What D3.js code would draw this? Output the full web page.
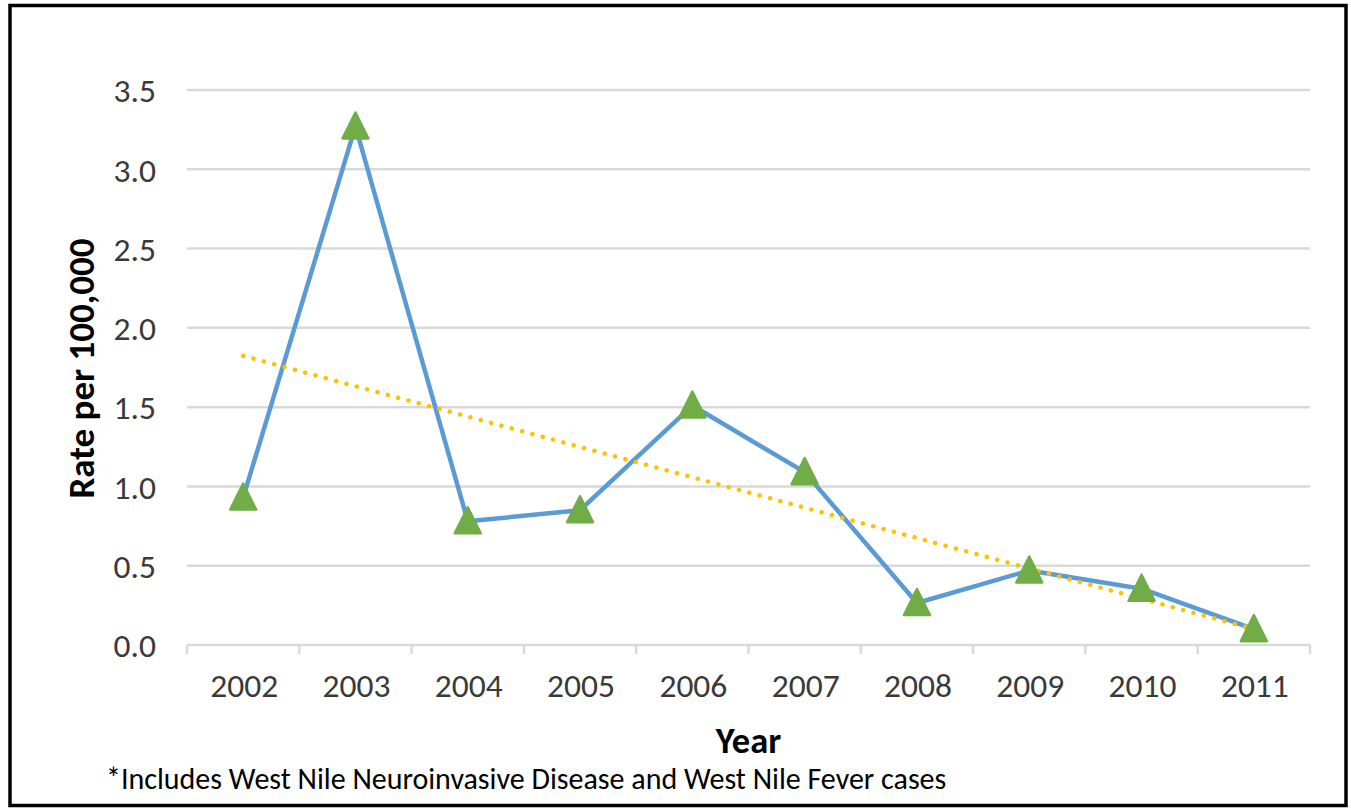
<!DOCTYPE html>
<html>
<head>
<meta charset="utf-8">
<script src="https://cdn.jsdelivr.net/npm/d3@7"></script>
<style>
  html, body { margin: 0; padding: 0; background: #fff; }
  svg { display: block; }
</style>
</head>
<body>
<svg id="chart" width="1351" height="810"></svg>
<script>
// West Nile virus rate per 100,000 by year
const years = ["2002", "2003", "2004", "2005", "2006", "2007", "2008", "2009", "2010", "2011"];
const rates = [0.93, 3.27, 0.78, 0.85, 1.51, 1.09, 0.265, 0.47, 0.355, 0.10];
const yTicks = [0, 0.5, 1.0, 1.5, 2.0, 2.5, 3.0, 3.5];
const xTitle = "Year";
const yTitle = "Rate per 100,000";
const footnote = "*Includes West Nile Neuroinvasive Disease and West Nile Fever cases";

const FONT = "Carlito, 'Open Sans', 'Noto Sans', sans-serif";
const svg = d3.select("#chart");

// outer frame
svg.append("rect").attr("x", 10).attr("y", 5.5).attr("width", 1336).attr("height", 800)
  .attr("fill", "#fff").attr("stroke", "#000").attr("stroke-width", 3.5);

const plot = { left: 187, right: 1310, top: 90, bottom: 645 };

const x = d3.scaleBand().domain(years).range([plot.left, plot.right]).padding(0);
const y = d3.scaleLinear().domain([0, 3.5]).range([plot.bottom, plot.top]);
const cx = d => x(d) + x.bandwidth() / 2;

// horizontal gridlines (the zero line doubles as the category axis)
svg.append("g").selectAll("line").data(yTicks).join("line")
  .attr("x1", plot.left).attr("x2", plot.right)
  .attr("y1", d => y(d)).attr("y2", d => y(d))
  .attr("stroke", "#d9d9d9").attr("stroke-width", 2.5);

// value axis labels
const yAxis = d3.axisLeft(y).tickValues(yTicks).tickFormat(d3.format(".1f")).tickSize(0).tickPadding(0);
const gy = svg.append("g").attr("transform", "translate(156,1)").call(yAxis);
gy.select(".domain").remove();
gy.selectAll("text").attr("font-family", FONT).attr("font-size", 33.5).attr("fill", "#3a3a3a");

// category axis: tick marks at band edges, labels centred in bands
const edges = years.map(d => x(d)).concat([plot.right]);
svg.append("g").selectAll("line").data(edges).join("line")
  .attr("x1", d => d).attr("x2", d => d)
  .attr("y1", plot.bottom).attr("y2", plot.bottom + 9)
  .attr("stroke", "#d9d9d9").attr("stroke-width", 2.5);

const xAxis = d3.axisBottom(x).tickSize(0).tickPadding(0);
const gx = svg.append("g").attr("transform", `translate(1,${plot.bottom + 28})`).call(xAxis);
gx.select(".domain").remove();
gx.selectAll("text").attr("font-family", FONT).attr("font-size", 33.5).attr("fill", "#3a3a3a");

// axis titles
svg.append("text").attr("x", (plot.left + plot.right) / 2).attr("y", 753)
  .attr("text-anchor", "middle").attr("font-family", FONT).attr("font-weight", "bold")
  .attr("font-size", 36.5).attr("fill", "#000").text(xTitle);

svg.append("text").attr("transform", `translate(94,${(plot.top + plot.bottom) / 2 + 1}) rotate(-90)`)
  .attr("text-anchor", "middle").attr("font-family", FONT).attr("font-weight", "bold")
  .attr("font-size", 37).attr("fill", "#000").text(yTitle);

// footnote
svg.append("text").attr("x", 106).attr("y", 789)
  .attr("font-family", FONT).attr("font-size", 30).attr("fill", "#000").text(footnote);

// data line
const pts = years.map((yr, i) => ({ yr, v: rates[i] }));
svg.append("path").datum(pts)
  .attr("fill", "none").attr("stroke", "#5b9bd5").attr("stroke-width", 4.5)
  .attr("stroke-linejoin", "round")
  .attr("d", d3.line().x(d => cx(d.yr)).y(d => y(d.v)));

// least-squares linear trendline over the year index
const n = rates.length;
const idx = d3.range(n);
const mx = d3.mean(idx), my = d3.mean(rates);
const slope = d3.sum(idx, i => (i - mx) * (rates[i] - my)) / d3.sum(idx, i => (i - mx) ** 2);
const icpt = my - slope * mx;
const trend = [0, n - 1].map(i => ({ yr: years[i], v: icpt + slope * i }));
svg.append("path").datum(trend)
  .attr("fill", "none").attr("stroke", "#ffc000").attr("stroke-width", 4.5)
  .attr("stroke-linecap", "round").attr("stroke-dasharray", "0.1 10.6")
  .attr("d", d3.line().x(d => cx(d.yr)).y(d => y(d.v)));

// triangle markers
const tw = 26, th = 26;
const tri = `M0,${-th / 2}L${tw / 2},${th / 2}L${-tw / 2},${th / 2}Z`;
svg.append("g").selectAll("path").data(pts).join("path")
  .attr("transform", d => `translate(${cx(d.yr)},${y(d.v) - 1})`)
  .attr("d", tri)
  .attr("fill", "#70ad47").attr("stroke", "#70ad47").attr("stroke-width", 2.5)
  .attr("stroke-linejoin", "round");
</script>
</body>
</html>
